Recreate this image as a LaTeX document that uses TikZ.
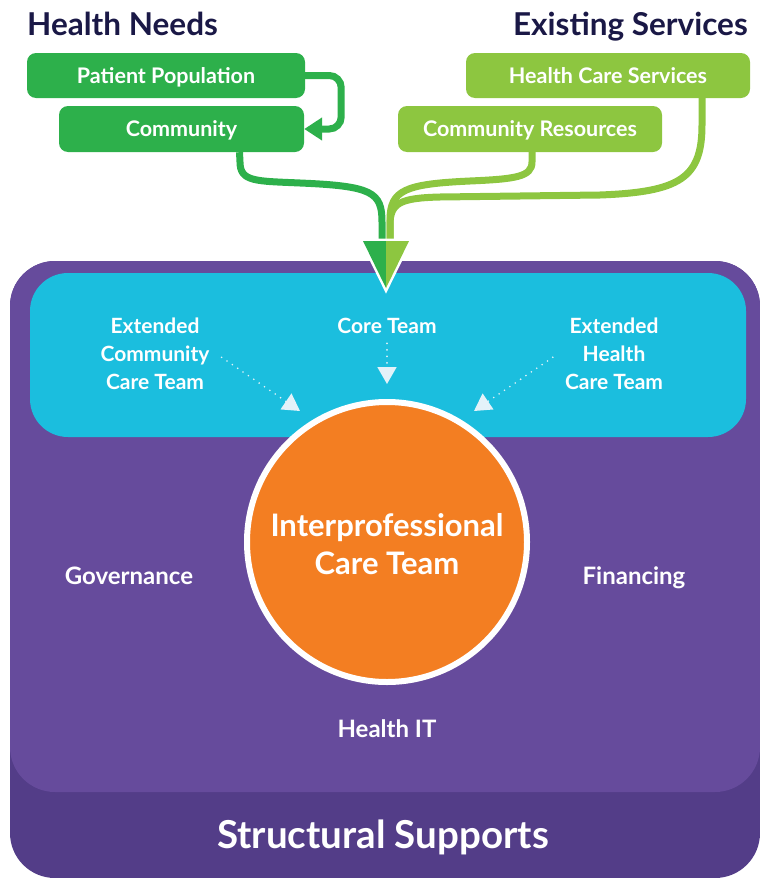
\documentclass[tikz,border=0pt]{standalone}
\usepackage{fontspec}
\setmainfont{Lato}
\usetikzlibrary{arrows.meta,calc}
\definecolor{dgreen}{HTML}{2DB04B}
\definecolor{lgreen}{HTML}{8DC640}
\definecolor{cyanbg}{HTML}{1BBEDE}
\definecolor{plight}{HTML}{664B9C}
\definecolor{pdark}{HTML}{533D88}
\definecolor{orangec}{HTML}{F37E22}
\definecolor{navyc}{HTML}{1A1846}
\definecolor{palec}{HTML}{E3F2F9}
\begin{document}
\begin{tikzpicture}[x=1pt,y=-1pt,
  box/.style={rounded corners=9pt, minimum height=45pt, text=white,
    font=\bfseries\fontsize{21.5}{26}\selectfont, inner sep=0pt, text height=15.5pt, text depth=0pt},
  titletext/.style={text=navyc, font=\bfseries\fontsize{31.5}{35}\selectfont, inner sep=0pt},
  wlabel/.style={text=white, font=\bfseries\fontsize{21}{28}\selectfont, align=center, inner sep=0pt},
  slabel/.style={text=white, font=\bfseries\fontsize{24}{28}\selectfont, inner sep=0pt},
  flow/.style={line width=7pt},
  dotarrow/.style={draw=palec, line width=1.8pt, dash pattern=on 0pt off 6.5pt, line cap=round,
    -{Triangle[length=17pt,width=19pt,fill=palec]}}
]
\useasboundingbox (0,0) rectangle (760,878);
% panels
\fill[pdark, rounded corners=45pt] (10,261) rectangle (760,878);
\fill[plight, rounded corners=45pt] (10,261) rectangle (760,792);
\fill[cyanbg, rounded corners=38pt] (30,273) rectangle (746,437);

% titles
\node[titletext, anchor=base west] (hn) at (27,35) {Health Needs};
\node[titletext, anchor=base east] (es) at (748,35) {Existing Services};

% boxes
\node[box, fill=dgreen, minimum width=278pt] (pp) at (166,75.5) {Patient Population};
\node[box, fill=dgreen, minimum width=245pt, minimum height=46pt] (comm) at (181.5,129) {Community};
\node[box, fill=lgreen, minimum width=284pt] (hcs) at (608,75.5) {Health Care Services};
\node[box, fill=lgreen, minimum width=264pt, minimum height=46pt] (cr) at (530,129) {Community Resources};

% loop arrow
\draw[flow, dgreen, rounded corners=12pt, -{Triangle[length=18pt,width=22pt]}]
  (pp.east) -- ++(36,0) |- (comm.east);

% merging flows
\coordinate (mtip) at (386,288);
\draw[flow, dgreen] ([xshift=58pt]comm.south) -- (240,162)
  .. controls (240,182) and (256,181) .. (300,183)
  .. controls (372,186) and (382,192) .. (382,222) -- (382,246);
\draw[flow, lgreen] ([xshift=2pt]cr.south) -- (532,162)
  .. controls (532,177) and (515,179) .. (470,181)
  .. controls (405,184) and (390,190) .. (390,220) -- (390,246);
\draw[flow, lgreen] ([xshift=94pt]hcs.south) -- (702,125)
  .. controls (702,178) and (680,192) .. (600,195)
  -- (440,197) .. controls (400,198) and (390,203) .. (390,225) -- (390,246);
% arrow head
\draw[white, line width=5pt, line join=miter] (363,241) -- (409,241) -- (mtip) -- cycle;
\fill[dgreen] (363,241) -- (386,241) -- (mtip) -- cycle;
\fill[lgreen] (386,241) -- (409,241) -- (mtip) -- cycle;

% team labels (base anchor = last line's baseline)
\node[wlabel, anchor=base] (ext1) at (155,389) {Extended\\Community\\Care Team};
\node[wlabel, anchor=base] (core) at (387,333) {Core Team};
\node[wlabel, anchor=base] (ext2) at (614,389) {Extended\\Health\\Care Team};

% central circle
\node[circle, fill=orangec, draw=white, line width=6pt, minimum size=280pt] (ict) at (387,542) {};
\node[text=white, font=\bfseries\fontsize{31}{38}\selectfont, align=center, anchor=base, inner sep=0pt]
  (ictl) at (387,574) {Interprofessional\\Care Team};

% dotted arrows
\coordinate (t1) at (300,411);
\coordinate (t2) at (387,384);
\coordinate (t3) at (474,411);
\draw[dotarrow] ($(ext1.east)+(12,4)$) -- (t1);
\draw[dotarrow] ($(core.south)+(0,10)$) -- (t2);
\draw[dotarrow] ($(ext2.west)+(-12,4)$) -- (t3);

% structural labels
\node[slabel, anchor=base] (gov) at (129,584) {Governance};
\node[slabel, anchor=base] (fin) at (634,584) {Financing};
\node[slabel, anchor=base] (hit) at (387,737) {Health IT};
\node[text=white, font=\bfseries\fontsize{38.5}{42}\selectfont, anchor=base, inner sep=0pt] (ss) at (383,848) {Structural Supports};
\end{tikzpicture}
\end{document}
